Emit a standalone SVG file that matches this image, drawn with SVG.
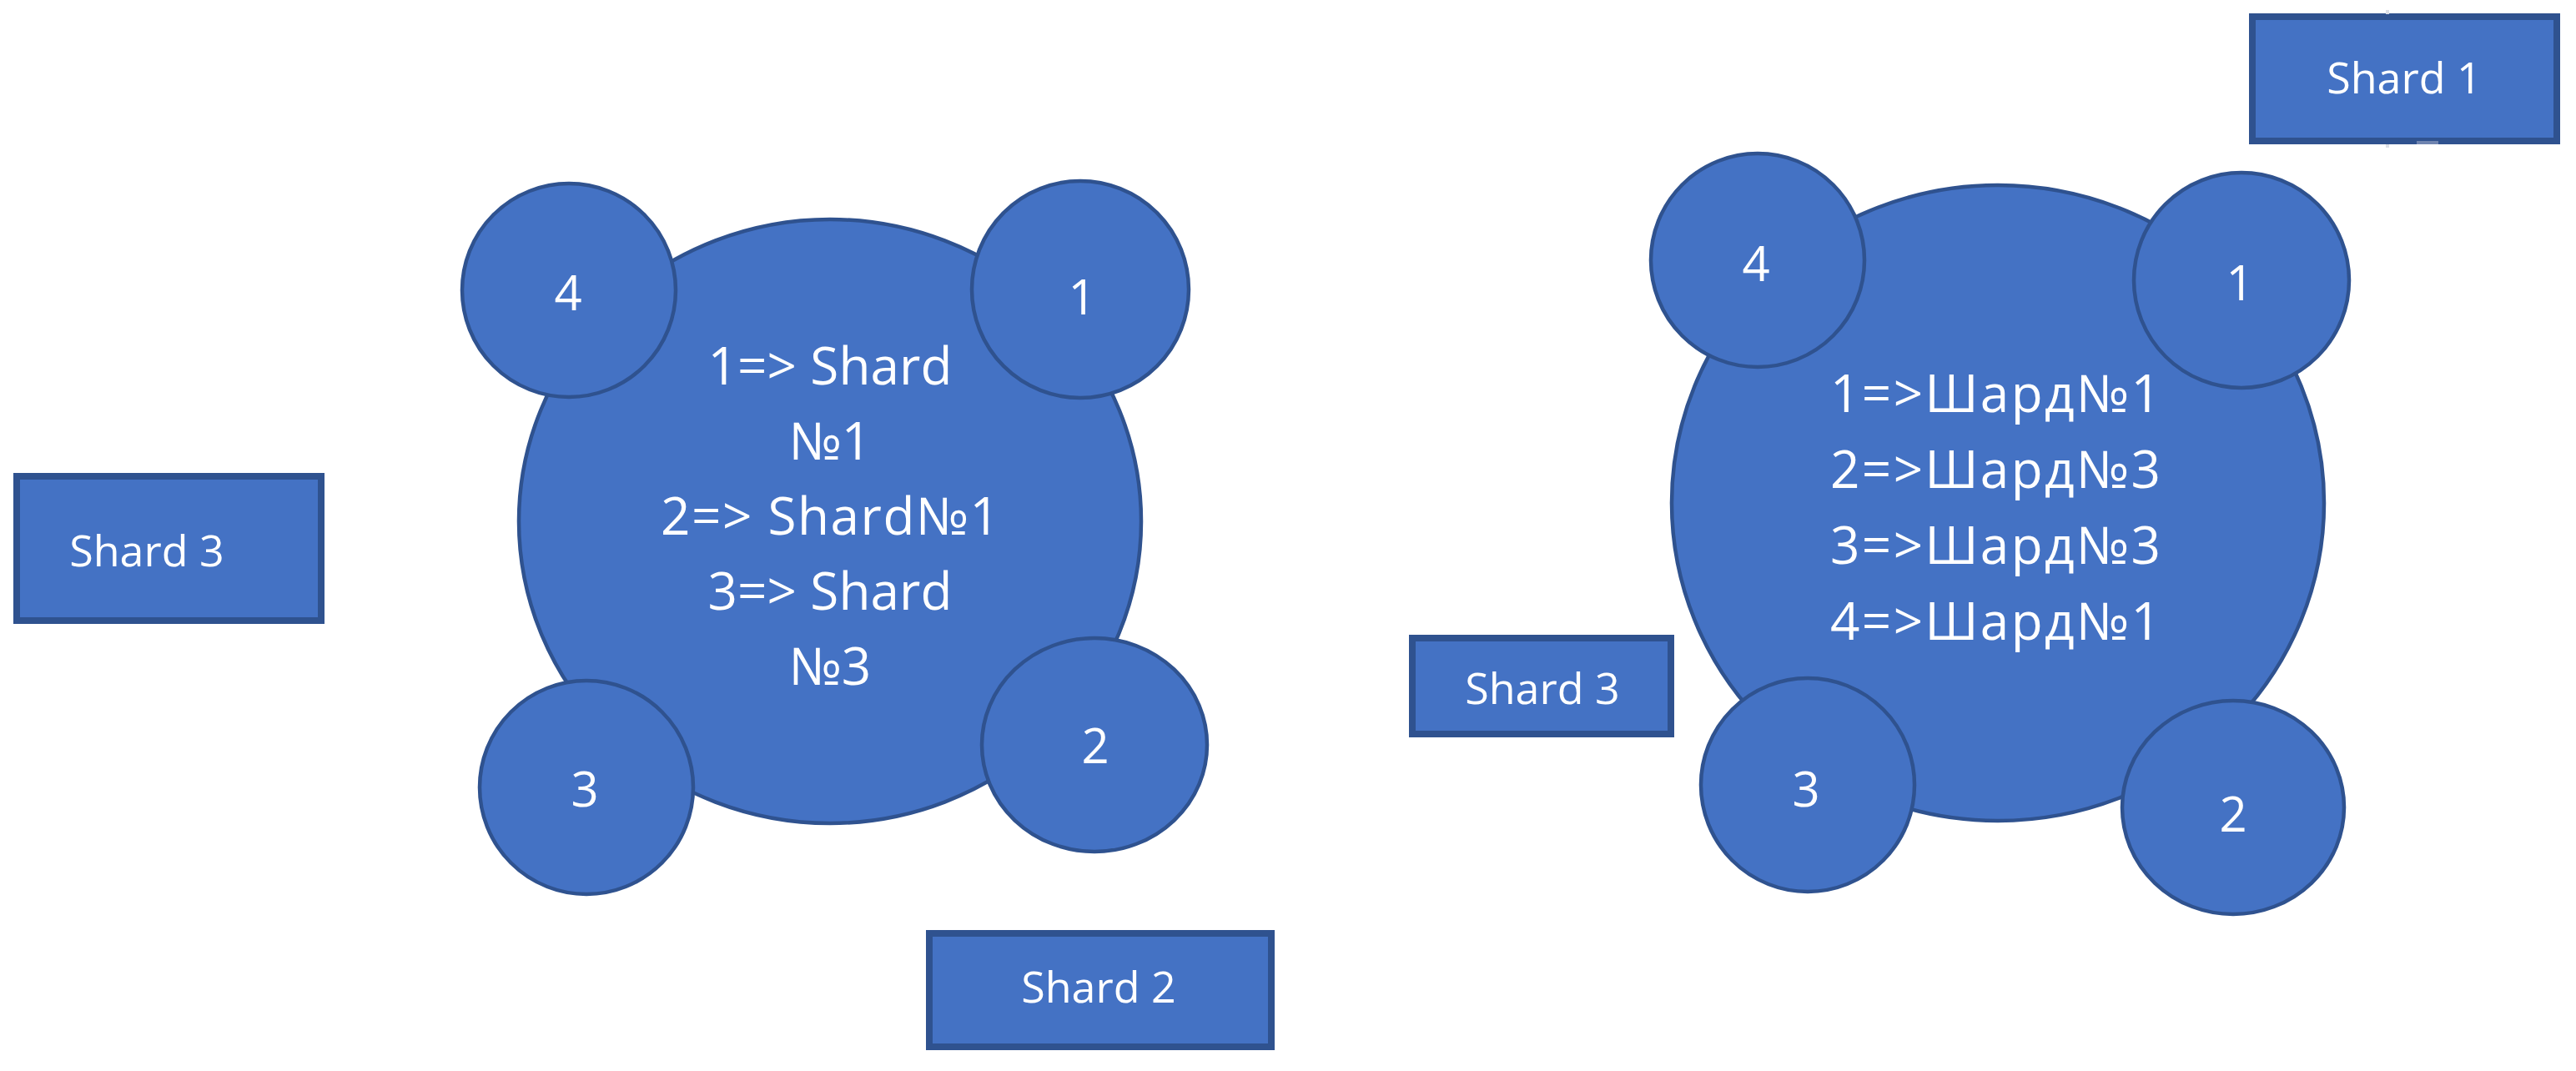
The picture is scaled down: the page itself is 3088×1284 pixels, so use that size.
<svg xmlns="http://www.w3.org/2000/svg" width="3088" height="1284" viewBox="0 0 3088 1284">
<style>
.bg{fill:#ffffff}
.ring{fill:#4472C4;stroke:#2F528F;stroke-width:4.5}
.box{fill:#4472C4;stroke:#2F528F;stroke-width:8}
.t{font-family:"Open Sans","Noto Sans","DejaVu Sans",sans-serif;fill:#ffffff;text-anchor:middle}
.big{font-size:62px}
.num{font-size:58px}
.lbl{font-size:52px}
.mark{fill:#dcdfe6}
</style>
<rect class="bg" x="0" y="0" width="3088" height="1284"/>
<g id="connectors"></g>
<g id="left-cluster">
  <g id="left-ring">
    <ellipse class="ring" cx="995" cy="625" rx="373" ry="362"/>
    <text class="t big" x="995" y="461" textLength="293">1=&gt; Shard</text>
    <text class="t big" x="995" y="551">№1</text>
    <text class="t big" x="995" y="641" textLength="406">2=&gt; Shard№1</text>
    <text class="t big" x="995" y="731" textLength="293">3=&gt; Shard</text>
    <text class="t big" x="995" y="821">№3</text>
  </g>
  <g id="left-node-4">
    <circle class="ring" cx="682" cy="348" r="128"/>
    <text class="t num" x="681" y="372">4</text>
  </g>
  <g id="left-node-1">
    <circle class="ring" cx="1295" cy="347" r="130"/>
    <text class="t num" x="1297" y="377">1</text>
  </g>
  <g id="left-node-3">
    <circle class="ring" cx="703" cy="944" r="128"/>
    <text class="t num" x="701" y="967">3</text>
  </g>
  <g id="left-node-2">
    <ellipse class="ring" cx="1312" cy="893" rx="135" ry="128"/>
    <text class="t num" x="1313" y="915">2</text>
  </g>
</g>
<g id="right-cluster">
  <g id="right-ring">
    <ellipse class="ring" cx="2395" cy="603" rx="391" ry="381"/>
    <text class="t big" x="2392" y="494" textLength="396">1=&gt;Шард№1</text>
    <text class="t big" x="2392" y="585" textLength="396">2=&gt;Шард№3</text>
    <text class="t big" x="2392" y="676" textLength="396">3=&gt;Шард№3</text>
    <text class="t big" x="2392" y="767" textLength="396">4=&gt;Шард№1</text>
  </g>
  <g id="right-node-4">
    <circle class="ring" cx="2107" cy="312" r="128"/>
    <text class="t num" x="2105" y="337">4</text>
  </g>
  <g id="right-node-1">
    <circle class="ring" cx="2687" cy="336" r="129"/>
    <text class="t num" x="2685" y="360">1</text>
  </g>
  <g id="right-node-3">
    <circle class="ring" cx="2167" cy="941" r="128"/>
    <text class="t num" x="2165" y="967">3</text>
  </g>
  <g id="right-node-2">
    <ellipse class="ring" cx="2677" cy="968" rx="133" ry="128"/>
    <text class="t num" x="2677" y="997">2</text>
  </g>
</g>
<g id="shard3-left">
  <rect class="box" x="20" y="571" width="365" height="173"/>
  <text class="t lbl" x="176" y="679">Shard 3</text>
</g>
<g id="shard2">
  <rect class="box" x="1114" y="1119" width="410" height="136"/>
  <text class="t lbl" x="1317" y="1202">Shard 2</text>
</g>
<g id="shard3-right">
  <rect class="box" x="1693" y="765" width="310" height="115"/>
  <text class="t lbl" x="1849" y="844">Shard 3</text>
</g>
<g id="shard1">
  <rect class="box" x="2700" y="20" width="365" height="149"/>
  <text class="t lbl" x="2882" y="112">Shard 1</text>
  <rect class="mark" x="2860" y="12" width="4" height="5"/>
  <rect class="mark" x="2860" y="173" width="4" height="4"/>
  <rect x="2897" y="169" width="26" height="4" fill="#6f84b0"/>
</g>
</svg>
